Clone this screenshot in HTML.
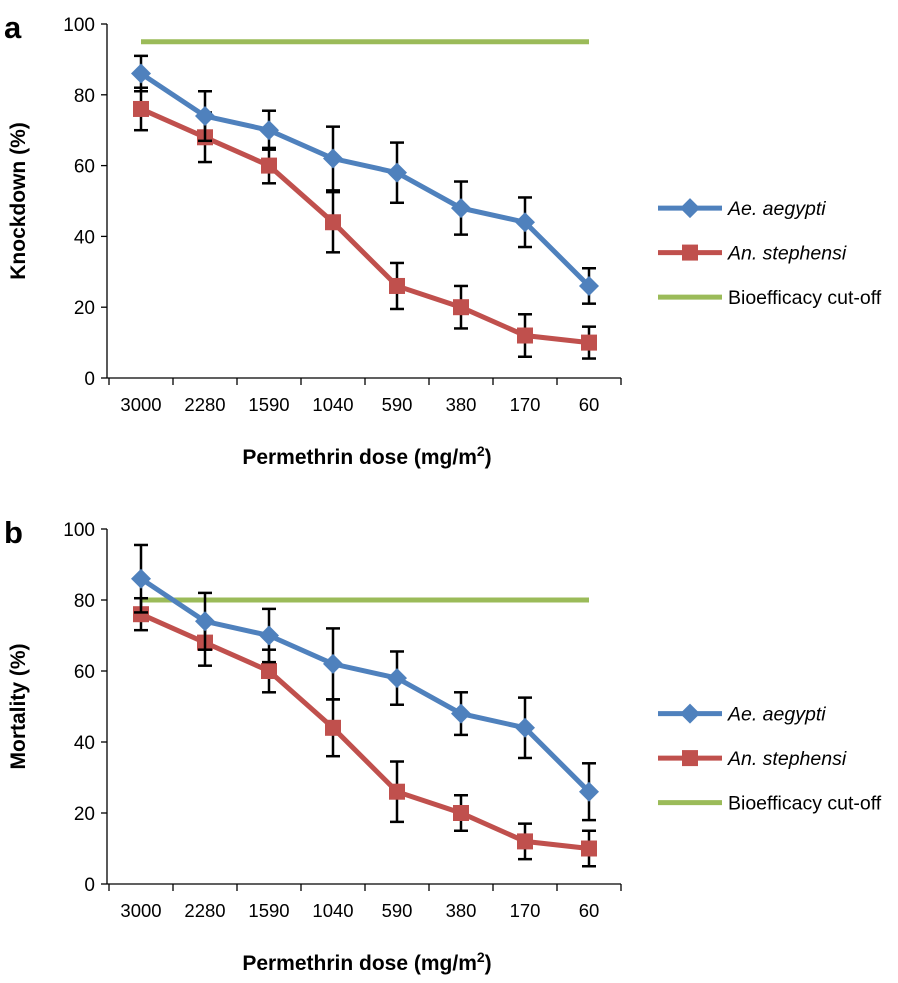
<!DOCTYPE html>
<html><head><meta charset="utf-8"><style>
body{margin:0;background:#fff;}
svg text{font-family:"Liberation Sans",sans-serif;}
</style></head><body>
<svg id="c" width="898" height="978" xmlns="http://www.w3.org/2000/svg"></svg>
<script>
const categories=["3000","2280","1590","1040","590","380","170","60"];
const yTicks=[0,20,40,60,80,100];
const aAe=[86,74,70,62,58,48,44,26];
const aAeErr=[5,7,5.5,9,8.5,7.5,7,5];
const aAn=[76,68,60,44,26,20,12,10];
const aAnErr=[6,7,5,8.5,6.5,6,6,4.5];
const aCut=95;
const bAe=[86,74,70,62,58,48,44,26];
const bAeErr=[9.5,8,7.5,10,7.5,6,8.5,8];
const bAn=[76,68,60,44,26,20,12,10];
const bAnErr=[4.5,6.5,6,8,8.5,5,5,5];
const bCut=80;
const legendLabels=["Ae. aegypti","An. stephensi","Bioefficacy cut-off"];
const svg=document.getElementById('c');
const NS='http://www.w3.org/2000/svg';
function mk(t,a,p){const e=document.createElementNS(NS,t);for(const k in a)e.setAttribute(k,a[k]);(p||svg).appendChild(e);return e;}
function panel(letter,yTitle,y0,y100,ae,aeE,an,anE,cut){
  const g=mk('g',{});
  
  
  const X0=107,step=64;
  const xs=i=>X0+34+i*step;
  const ys=v=>y0-(v/100)*(y0-y100);
  const xEnd=X0+step*categories.length+2;
  mk('line',{x1:X0,y1:y100,x2:X0,y2:y0,stroke:'#000','stroke-width':1.3},g);
  mk('line',{x1:X0,y1:y0,x2:xEnd,y2:y0,stroke:'#000','stroke-width':1.3},g);
  yTicks.forEach(t=>{
    mk('line',{x1:X0-6,y1:ys(t),x2:X0,y2:ys(t),stroke:'#000','stroke-width':1.3},g);
    const tx=mk('text',{x:X0-12,y:ys(t)+7,'text-anchor':'end','font-size':19},g);tx.textContent=t;
    
  });
  for(let i=0;i<=categories.length;i++){const x=X0+2+i*step;mk('line',{x1:x,y1:y0,x2:x,y2:y0+7,stroke:'#000','stroke-width':1.3},g);}
  categories.forEach((c,i)=>{const t=mk('text',{x:xs(i),y:y0+33,'text-anchor':'middle','font-size':18.5},g);t.textContent=c;
    });
  const xt=mk('text',{x:367,y:y0+86,'text-anchor':'middle','font-size':21,'font-weight':'bold'},g);
  
  xt.innerHTML='Permethrin dose (mg/m<tspan font-size="14" dy="-8">2</tspan><tspan dy="8">)</tspan>';
  const yt=mk('text',{transform:`translate(25,${(y0+y100)/2}) rotate(-90)`,'text-anchor':'middle','font-size':21,'font-weight':'bold'},g);
  yt.textContent=yTitle;
  
  const lt=mk('text',{x:4,y:y100+14,'font-size':31,'font-weight':'bold'},g);lt.textContent=letter;
  
  const cl=mk('line',{x1:xs(0),y1:ys(cut),x2:xs(7),y2:ys(cut),stroke:'#9BBB59','stroke-width':5},g);
  
  function series(vals,errs,col,shape,name){
    vals.forEach((v,i)=>{const x=xs(i);
      mk('line',{x1:x,y1:ys(v+errs[i]),x2:x,y2:ys(v-errs[i]),stroke:'#000','stroke-width':2.5},g);
      mk('line',{x1:x-7,y1:ys(v+errs[i]),x2:x+7,y2:ys(v+errs[i]),stroke:'#000','stroke-width':2.5},g);
      mk('line',{x1:x-7,y1:ys(v-errs[i]),x2:x+7,y2:ys(v-errs[i]),stroke:'#000','stroke-width':2.5},g);});
    const pl=mk('polyline',{points:vals.map((v,i)=>xs(i)+','+ys(v)).join(' '),fill:'none',stroke:col,'stroke-width':5},g);
    
    vals.forEach((v,i)=>{const x=xs(i),y=ys(v);let m;
      if(shape==='d')m=mk('polygon',{points:`${x},${y-10} ${x+10},${y} ${x},${y+10} ${x-10},${y}`,fill:col},g);
      else m=mk('rect',{x:x-8,y:y-8,width:16,height:16,fill:col},g);
      });
  }
  series(an,anE,'#C0504D','s','an-stephensi');
  series(ae,aeE,'#4F81BD','d','ae-aegypti');
  const cols=['#4F81BD','#C0504D','#9BBB59'];
  const ly0=y100+(y0-y100)*0.52;
  legendLabels.forEach((l,i)=>{const y=ly0+i*44.5;
    mk('line',{x1:658,y1:y,x2:722,y2:y,stroke:cols[i],'stroke-width':5},g);
    if(i===0)mk('polygon',{points:`690,${y-10} 700,${y} 690,${y+10} 680,${y}`,fill:cols[i]},g);
    if(i===1)mk('rect',{x:682,y:y-8,width:16,height:16,fill:cols[i]},g);
    const t=mk('text',{x:728,y:y+7,'font-size':19.5,'font-style':i<2?'italic':'normal'},g);t.textContent=l;
    });
}
panel('a','Knockdown (%)',378,24,aAe,aAeErr,aAn,aAnErr,aCut);
panel('b','Mortality (%)',884,529,bAe,bAeErr,bAn,bAnErr,bCut);
</script>
</body></html>
